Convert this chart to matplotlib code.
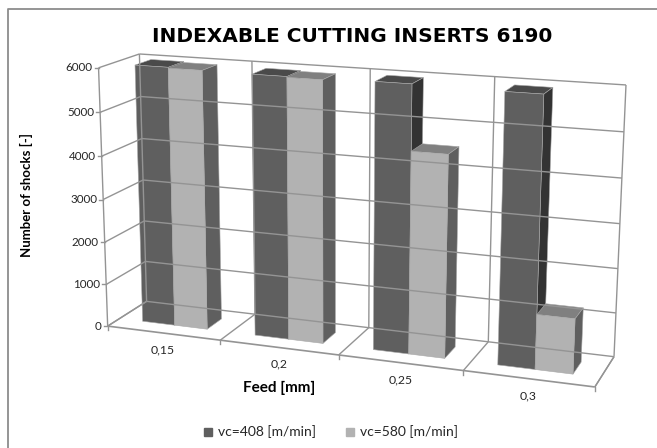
import numpy as np
import matplotlib
matplotlib.use('Agg')
import matplotlib.pyplot as plt
from matplotlib.collections import PolyCollection

categories = ['0,15', '0,2', '0,25', '0,3']
series_names = ['vc=408 [m/min]', 'vc=580 [m/min]']
vc408 = [6000, 5970, 5990, 5960]
vc580 = [5980, 5950, 4540, 1230]
y_ticks = [0, 1000, 2000, 3000, 4000, 5000, 6000]

# colours: front, side, top
shades = [('#5f5f5f', '#333333', '#4a4a4a'), ('#b2b2b2', '#5f5f5f', '#808080')]
grid = '#949494'

# camera calibration: (category, depth, value) -> pixel of the 3d box corners
world = np.array([(0, 0, 0), (1, 0, 0), (2, 0, 0), (3, 0, 0), (4, 0, 0), (4, 1, 0), (0, 1, 0),
                  (0, 0, 6000), (0, 0, 3000), (0, 1, 6000), (4, 1, 6000)], float)
pixel = np.array([(108.5, 327), (220, 340), (339, 355), (463, 370), (595, 387), (614, 357), (146, 301),
                  (98, 68), (103, 199), (140, 54), (626, 85)], float)
rows = []
for (a, b, c), (u, v) in zip(world, pixel):
    c = c / 1000
    rows.append([a, b, c, 1, 0, 0, 0, 0, -u*a, -u*b, -u*c, -u])
    rows.append([0, 0, 0, 0, a, b, c, 1, -v*a, -v*b, -v*c, -v])
P = np.linalg.svd(np.array(rows))[2][-1].reshape(3, 4)


def proj(x, d, z):
    h = P @ np.array([x, d, z / 1000, 1.0])
    return h[0] / h[2], h[1] / h[2]


plt.rcParams['font.family'] = ['Lato', 'DejaVu Sans']
fig = plt.figure(figsize=(6.57, 4.48), dpi=100)
ax = fig.add_axes([0, 0, 1, 1])
ax.set_xlim(0, 657)
ax.set_ylim(448, 0)
ax.axis('off')

# chart frame, clipped by the image at right and bottom
ax.plot([8, 8, 657], [448, 9, 9], color='#8c8c8c', lw=1.3)


def line(a, b, lw=1.0):
    ax.plot(*zip(proj(*a), proj(*b)), color=grid, lw=lw, solid_capstyle='butt')


zmax = y_ticks[-1]
# walls and gridlines
for z in y_ticks:
    line((0, 0, z), (0, 1, z))
    line((0, 1, z), (4, 1, z))
for i in range(5):
    line((i, 1, 0), (i, 1, zmax))
    line((i, 0, 0), (i, 1, 0))
line((0, 0, 0), (0, 0, zmax))
line((0, 0, 0), (4, 0, 0), lw=1.2)
line((4, 0, 0), (4, 1, 0))
# tick marks
for z in y_ticks:
    px, py = proj(0, 0, z)
    ax.plot([px - 4, px], [py, py], color=grid, lw=1.0)
    ax.text(px - 6, py, str(z), ha='right', va='center', fontsize=8.4, color='#262626')
for i in range(5):
    px, py = proj(i, 0, 0)
    ax.plot([px, px], [py, py + 4], color=grid, lw=1.0)

# bars, back faces first
x_gap = 0.21
d0, d1 = 0.3, 0.7
for i in range(len(categories)):
    for s, vals in enumerate([vc408, vc580]):
        w = (1 - 2 * x_gap) / 2
        a = i + x_gap + s * w
        b = a + w
        h = vals[i]
        front = [proj(a, d0, 0), proj(b, d0, 0), proj(b, d0, h), proj(a, d0, h)]
        side = [proj(b, d0, 0), proj(b, d1, 0), proj(b, d1, h), proj(b, d0, h)]
        top = [proj(a, d0, h), proj(b, d0, h), proj(b, d1, h), proj(a, d1, h)]
        ax.add_collection(PolyCollection([top, side, front], facecolors=[shades[s][2], shades[s][1], shades[s][0]],
                                         edgecolors='#a8a8a8', linewidths=0.4))

# category labels
label_pos = [(163, 350), (279, 364), (401, 380), (528, 396)]
for name, (px, py) in zip(categories, label_pos):
    ax.text(px, py, name, ha='center', va='center', fontsize=8.8, color='#262626')

# wide face stands in for the letter-spaced title
ax.text(352, 37, 'INDEXABLE CUTTING INSERTS 6190', ha='center', va='center', fontsize=14.5, fontweight='bold',
        family='DejaVu Sans', color='black')
ax.text(279, 388, 'Feed [mm]', ha='center', va='center', fontsize=11, fontweight='bold', color='black')
ax.text(26, 195, 'Number of shocks [-]', ha='center', va='center', rotation=90, fontsize=9.5, fontweight='bold',
        color='black')

# legend
for px, tx, name, sh in zip([204, 346], [218, 360], series_names, shades):
    ax.fill([px, px + 8, px + 8, px], [428, 428, 436, 436], color=sh[0])
    ax.text(tx, 432, name, ha='left', va='center', fontsize=10, color='#262626')

fig.savefig('out.png', dpi=100)
